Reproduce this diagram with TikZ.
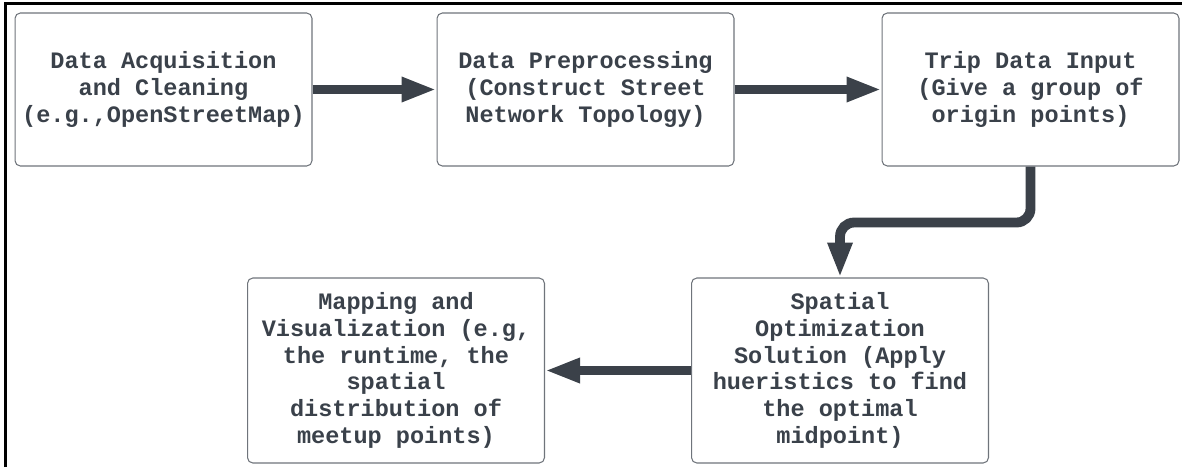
\documentclass[tikz,border=0pt]{standalone}
\usepackage{fontspec}
\setmonofont{Liberation Mono}
\usetikzlibrary{arrows.meta,positioning}
\definecolor{colortext}{HTML}{3A414A}
\definecolor{colorarrow}{HTML}{3B4149}
\definecolor{colorbox}{HTML}{6F747B}
\tikzstyle{stage}=[rectangle, rounded corners=3pt, draw=colorbox, line width=0.6pt, fill=white, align=center, text=colortext, font={\ttfamily\bfseries\fontsize{13.4}{15.2}\selectfont}, inner sep=0pt, minimum width=5.94cm]
\tikzstyle{flow}=[draw=colorarrow, line width=5.6pt, -{Triangle[length=0.7cm, width=0.46cm]}]

\begin{document}
\begin{tikzpicture}[x=0.02cm, y=-0.02cm]
	\useasboundingbox (0,0) rectangle (1182,467);
	\draw[line width=1.2pt] (5.5,467) -- (5.5,3.5) -- (1182,3.5);
	
	\node[stage, minimum height=3.06cm] at (163.5, 89.5) (acq) {Data Acquisition\\and Cleaning\\(e.g.,OpenStreetMap)};
	
	\node[stage, minimum height=3.06cm] at (585.5, 89.5) (prep) {Data Preprocessing\\(Construct Street\\Network Topology)};
	
	\node[stage, minimum height=3.06cm] at (1030.5, 89.5) (trip) {Trip Data Input\\(Give a group of\\origin points)};
	
	\node[stage, minimum height=3.7cm] at (840, 370.5) (opt) {Spatial\\Optimization\\Solution (Apply\\hueristics to find\\the optimal\\midpoint)};
	
	\node[stage, minimum height=3.7cm] at (396, 370.5) (vis) {Mapping and\\Visualization (e.g,\\the runtime, the\\spatial\\distribution of\\meetup points)};
	
	\path[flow] (acq) -- (prep);
	\path[flow] (prep) -- (trip);
	\path[flow, rounded corners=8pt] (trip.south) -- ++(0,56) -| (opt.north);
	\path[flow] (opt) -- (vis);
	
\end{tikzpicture}
\end{document}
